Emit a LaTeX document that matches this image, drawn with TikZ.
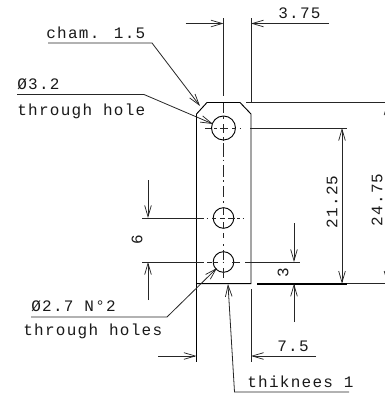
\documentclass[tikz,border=0pt]{standalone}
\usepackage{fontspec}
\usepackage{tikz}
\usetikzlibrary{arrows.meta}
\newfontfamily\cadfont[LetterSpace=8]{Liberation Mono}
\tikzset{
  lineb/.style={line width=0.7pt,draw=black},
  linea/.style={line width=0.6pt,draw=black!85},
  barb/.tip={Straight Barb[length=8.5pt,width=5pt,line width=0.55pt]},
  arr/.style={linea,-barb},
  arrb/.style={linea,barb-barb},
  centre/.style={line width=0.6pt,draw=black!85},
  lbl/.style={inner sep=0pt,font=\cadfont\fontsize{12}{14}\selectfont,text=black!90}
}
\begin{document}
\begin{tikzpicture}[x=0.75pt,y=0.75pt,yscale=-1,xscale=1]
  \useasboundingbox (0,0) rectangle (385,396);

  %Shape: Plate outline
  \draw [lineb] (196.5,114) -- (207,102.5) -- (240,102.5) -- (251,114) -- (251,283.7) -- (196.5,283.7) -- cycle ;
  %Shape: Holes
  \draw [lineb] (223.5,128) circle [radius=12];
  \draw [lineb] (223.5,218) circle [radius=10.3];
  \draw [lineb] (223.5,262) circle [radius=10.3];

  %Centre lines
  \draw [centre] (223.5,103) -- (223.5,113) (223.5,116) -- (223.5,119) (223.5,124) -- (223.5,133)
    (223.5,137) -- (223.5,141) (223.5,143) -- (223.5,157) (223.5,159.5) -- (223.5,161)
    (223.5,165) -- (223.5,177) (223.5,180) -- (223.5,181.5) (223.5,186) -- (223.5,197)
    (223.5,201) -- (223.5,202.5) (223.5,207) -- (223.5,215) (223.5,217.5) -- (223.5,219)
    (223.5,222) -- (223.5,228) (223.5,233) -- (223.5,238) (223.5,244) -- (223.5,245.5)
    (223.5,250) -- (223.5,260) (223.5,261.5) -- (223.5,263) (223.5,268) -- (223.5,278);
  \draw [centre] (205,128) -- (211,128) (214,128) -- (217,128) (220,128) -- (228,128)
    (232,128) -- (236,128) (239.5,128) -- (241,128);
  \draw [centre] (206.5,218) -- (208,218) (212,218) -- (216,218) (220,218) -- (225,218)
    (228,218) -- (235,218) (237,218) -- (240,218) (242.5,218) -- (244,218);
  \draw [centre] (207,262) -- (212,262) (213,262) -- (218,262) (222.5,262) -- (224,262)
    (232,262) -- (240,262);

  %Extension lines
  \draw [linea] (223.5,18) -- (223.5,96);
  \draw [linea] (251,18) -- (251,102);
  \draw [linea] (246,102.5) -- (385,102.5);
  \draw [linea] (250,128) -- (347,128);
  \draw [linea] (142,218) -- (204,218);
  \draw [linea] (142,262) -- (204,262);
  \draw [linea] (245,262) -- (300,262);
  \draw [line width=1.2pt] (257,283.7) -- (347,283.7);
  \draw [linea] (347,283.7) -- (385,283.7);
  \draw [lineb] (196.5,283.7) -- (196.5,362);
  \draw [linea] (251,289) -- (251,362);

  %Dimension arrows
  \coordinate (top1) at (223.5,23.5);
  \coordinate (top2) at (251,23.5);
  \coordinate (bot1) at (196.5,356);
  \coordinate (bot2) at (251,356);
  \draw [arr] (185.5,23.5) -- (top1);
  \draw [arr] (329,23.5) -- (top2);
  \draw [arr] (158,356) -- (bot1);
  \draw [arr] (316,356) -- (bot2);
  \draw [arr] (148,180) -- (148,218);
  \draw [arr] (148,300) -- (148,262);
  \draw [arr] (294,223) -- (294,262);
  \draw [arr] (294,322) -- (294,283.7);
  \draw [arrb] (342,128) -- (342,283.7);
  \draw [arrb] (387.5,102.5) -- (387.5,283.7);

  %Leaders
  \draw [arr] (48,43) -- (152,43) -- (200,106);
  \draw [arr] (17,94.5) -- (144,94.5) -- (213,124);
  \draw [arr] (31,317) -- (167,317) -- (217,268);
  \draw [arr] (349,392) -- (234.5,392) -- (228,284);

  % Text Node
  \draw (46,38) node (cham) [lbl,anchor=base west] {cham. 1.5};
  \draw (17,89) node (holeone) [lbl,anchor=base west] {\O3.2};
  \draw (17,115) node (holeonetxt) [lbl,anchor=base west] {through hole};
  \draw (31,311) node (holetwo) [lbl,anchor=base west] {\O2.7 N°2};
  \draw (23,335) node (holetwotxt) [lbl,anchor=base west] {through holes};
  \draw (278,18) node (wtop) [lbl,anchor=base west] {3.75};
  \draw (277,351) node (wbot) [lbl,anchor=base west] {7.5};
  \draw (247,387) node (thick) [lbl,anchor=base west] {thiknees 1};
  \draw (332,202) node (hone) [lbl,rotate=90] {21.25};
  \draw (377,200) node (htwo) [lbl,rotate=90] {24.75};
  \draw (137,240) node (six) [lbl,rotate=90] {6};
  \draw (283,273) node (three) [lbl,rotate=90] {3};
\end{tikzpicture}
\end{document}
